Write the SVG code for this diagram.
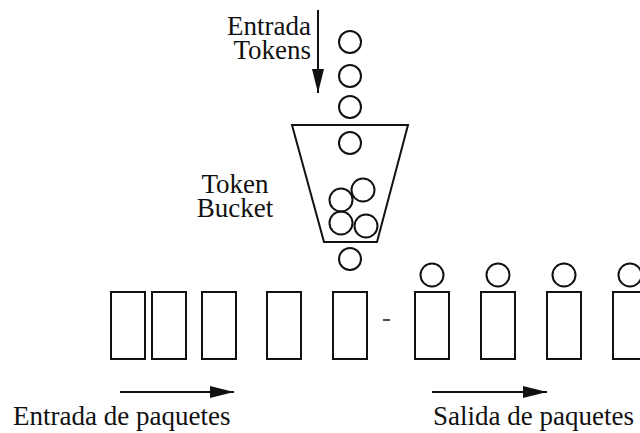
<svg xmlns="http://www.w3.org/2000/svg" width="640" height="433" viewBox="0 0 640 433">
  <style>
    .bg { fill: #ffffff; }
    .pkt { fill: none; stroke: #111; stroke-width: 2; }
    .tok { fill: none; stroke: #111; stroke-width: 2; }
    .bucket { fill: none; stroke: #111; stroke-width: 2; stroke-linejoin: miter; }
    .lbl { font-family: "Liberation Serif", "Times New Roman", serif; font-size: 27px; fill: #111; }
    .flow { stroke: #111; stroke-width: 2; fill: none; }
  </style>
  <defs>
    <marker id="head" viewBox="0 0 24 12" refX="24" refY="6" markerWidth="24" markerHeight="12" markerUnits="userSpaceOnUse" orient="auto">
      <path d="M0,0 L24,6 L0,12 Z" fill="#111"/>
    </marker>
  </defs>
  <rect class="bg" x="0" y="0" width="640" height="433"/>

  <!-- token input label -->
  <g id="token-input-label">
    <text class="lbl" x="311" y="35" text-anchor="end">Entrada</text>
    <text class="lbl" x="311" y="59" text-anchor="end">Tokens</text>
  </g>

  <!-- bucket with its tokens -->
  <g id="token-bucket">
    <path class="bucket" d="M292,125 L408,125 L377,242 L324,242 Z"/>
    <circle class="tok" cx="341" cy="200" r="11.5"/>
    <circle class="tok" cx="363" cy="190" r="11.5"/>
    <circle class="tok" cx="341" cy="223" r="11.5"/>
    <circle class="tok" cx="366" cy="226" r="11.5"/>
  </g>
  <g id="token-bucket-label">
    <text class="lbl" x="235" y="193" text-anchor="middle">Token</text>
    <text class="lbl" x="235" y="217" text-anchor="middle">Bucket</text>
  </g>

  <!-- falling tokens -->
  <g id="token-stream">
    <circle class="tok" cx="350" cy="42" r="11"/>
    <circle class="tok" cx="350" cy="76" r="11"/>
    <circle class="tok" cx="350" cy="107" r="11"/>
    <circle class="tok" cx="350" cy="143" r="11"/>
    <circle class="tok" cx="350" cy="259" r="11"/>
  </g>

  <!-- incoming packets -->
  <g id="packets-in">
    <rect class="pkt" x="111" y="292" width="34" height="67"/>
    <rect class="pkt" x="152" y="292" width="34" height="67"/>
    <rect class="pkt" x="202" y="292" width="34" height="67"/>
    <rect class="pkt" x="267" y="292" width="34" height="67"/>
    <rect class="pkt" x="333" y="292" width="34" height="67"/>
  </g>
  <line x1="383" y1="320" x2="390" y2="320" stroke="#111" stroke-width="1.5"/>

  <!-- outgoing packets, each carrying a token -->
  <g id="packets-out">
    <rect class="pkt" x="415" y="292" width="34" height="67"/>
    <circle class="tok" cx="432" cy="275" r="11.5"/>
    <rect class="pkt" x="481" y="292" width="34" height="67"/>
    <circle class="tok" cx="498" cy="275" r="11.5"/>
    <rect class="pkt" x="547" y="292" width="34" height="67"/>
    <circle class="tok" cx="564" cy="275" r="11.5"/>
    <rect class="pkt" x="613" y="292" width="34" height="67"/>
    <circle class="tok" cx="630" cy="275" r="11.5"/>
  </g>

  <!-- flow arrows -->
  <g id="connectors">
    <line class="flow" x1="318" y1="10" x2="318" y2="93" marker-end="url(#head)"/>
    <line class="flow" x1="120" y1="392" x2="234" y2="392" marker-end="url(#head)"/>
    <line class="flow" x1="432" y1="392" x2="547" y2="392" marker-end="url(#head)"/>
  </g>

  <g id="flow-labels">
    <text class="lbl" x="13" y="425">Entrada de paquetes</text>
    <text class="lbl" x="433" y="425">Salida de paquetes</text>
  </g>
</svg>
